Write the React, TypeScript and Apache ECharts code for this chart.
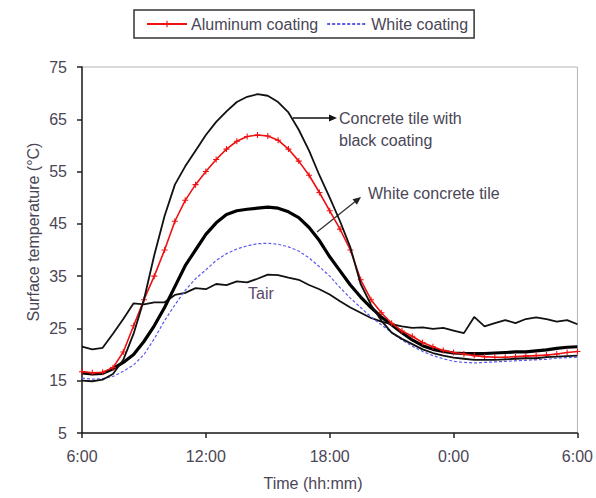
import React, { useEffect, useRef } from "react";
import * as echarts from "echarts";

const times = [
  "6:00", "6:30", "7:00", "7:30", "8:00", "8:30", "9:00", "9:30", "10:00", "10:30",
  "11:00", "11:30", "12:00", "12:30", "13:00", "13:30", "14:00", "14:30", "15:00", "15:30",
  "16:00", "16:30", "17:00", "17:30", "18:00", "18:30", "19:00", "19:30", "20:00", "20:30",
  "21:00", "21:30", "22:00", "22:30", "23:00", "23:30", "0:00", "0:30", "1:00", "1:30",
  "2:00", "2:30", "3:00", "3:30", "4:00", "4:30", "5:00", "5:30", "6:00",
];

const blackCoating = [
  15.0, 14.9, 15.2, 16.3, 19.0, 24.0, 30.5, 39.0, 46.5, 52.5,
  56.0, 59.0, 62.0, 64.5, 66.5, 68.3, 69.3, 69.8, 69.5, 68.3,
  66.3, 63.0, 59.0, 54.3, 50.0, 45.5, 40.5, 33.5, 29.5, 26.5,
  24.2, 23.0, 22.0, 21.0, 20.3, 19.8, 19.4, 19.2, 19.0, 19.0,
  19.0, 19.1, 19.2, 19.3, 19.3, 19.5, 19.6, 19.7, 19.8,
];

const aluminumCoating = [
  16.7, 16.5, 16.6, 17.5, 20.5, 25.5, 30.5, 35.0, 40.0, 45.5,
  49.5, 52.5, 55.0, 57.3, 59.3, 60.8, 61.7, 62.0, 61.8, 61.0,
  59.3, 57.0, 54.3, 51.0, 47.5, 44.0, 40.0, 34.3, 30.5, 28.0,
  26.0, 24.5, 23.5, 22.3, 21.5, 20.8, 20.4, 20.1, 19.8, 19.6,
  19.5, 19.5, 19.6, 19.7, 19.8, 19.9, 20.1, 20.4, 20.6,
];

const whiteConcreteTile = [
  16.5, 16.3, 16.4, 17.3, 18.5, 20.0, 22.5, 25.5, 29.0, 33.0,
  37.0, 40.0, 43.0, 45.2, 46.8, 47.5, 47.8, 48.0, 48.2, 48.0,
  47.3, 46.2, 44.3, 41.8, 38.7, 36.0, 33.3, 31.0, 29.0, 27.2,
  25.7, 24.2, 22.8, 21.7, 21.0, 20.6, 20.3, 20.2, 20.2, 20.2,
  20.3, 20.4, 20.5, 20.5, 20.7, 20.9, 21.2, 21.4, 21.5,
];

const whiteCoating = [
  15.5, 15.3, 15.4, 15.8, 16.8, 18.0, 20.0, 23.0, 26.5, 29.5,
  32.3, 34.5, 36.2, 38.0, 39.3, 40.2, 40.8, 41.2, 41.3, 41.1,
  40.6, 39.8, 38.5, 36.8, 35.0, 32.8, 30.8, 29.0, 27.2, 25.7,
  24.2, 22.8, 21.6, 20.6, 19.8, 19.2, 18.7, 18.5, 18.4, 18.5,
  18.6, 18.7, 18.8, 18.9, 19.0, 19.1, 19.3, 19.4, 19.5,
];

const tair = [
  21.5, 21.0, 21.3, 24.0, 26.8, 29.8, 29.6, 30.0, 30.0, 31.4,
  31.8, 32.7, 32.5, 33.5, 33.3, 34.0, 33.8, 34.5, 35.3, 35.2,
  34.7, 34.3, 33.3, 32.5, 31.5, 30.2, 29.0, 28.0, 27.0, 26.3,
  25.8, 25.4, 25.1, 25.2, 24.9, 25.1, 24.6, 24.1, 27.2, 25.4,
  26.0, 26.6, 26.0, 26.8, 27.1, 26.8, 26.3, 26.6, 25.8,
];

const yTicks = { min: 5, max: 75, interval: 10 };

const TEXT = "#4a4656";
const FONT = "'Liberation Sans', Arial, sans-serif";

const plusSymbol =
  "path://M-0.18,-1 L0.18,-1 L0.18,-0.18 L1,-0.18 L1,0.18 L0.18,0.18 L0.18,1 L-0.18,1 L-0.18,0.18 L-1,0.18 L-1,-0.18 L-0.18,-0.18 Z";

export default function App() {
  const ref = useRef<HTMLDivElement>(null);

  useEffect(() => {
    if (!ref.current) return;
    const chart = echarts.init(ref.current, undefined, { renderer: "svg" });

    const a2dir = { x: 44, y: -35 };
    const len = Math.hypot(a2dir.x, a2dir.y);
    const ux = a2dir.x / len;
    const uy = a2dir.y / len;
    const tip2 = { x: 361, y: 197 };
    const base2 = { x: tip2.x - ux * 8, y: tip2.y - uy * 8 };
    const px = -uy * 3.5;
    const py = ux * 3.5;

    chart.setOption({
      animation: false,
      backgroundColor: "#ffffff",
      textStyle: { fontFamily: FONT },
      grid: {
        left: 82,
        right: 14,
        top: 67,
        bottom: 65,
        show: true,
        borderColor: "#b4b4b4",
        borderWidth: 1,
        backgroundColor: "#ffffff",
      },
      legend: {
        data: [
          { name: "Aluminum coating" },
          { name: "White coating", itemStyle: { opacity: 0 } },
        ],
        left: 134,
        top: 10,
        orient: "horizontal",
        padding: [6, 6, 6, 12],
        itemWidth: 40,
        itemHeight: 8,
        itemGap: 8,
        backgroundColor: "#ffffff",
        borderColor: "#333333",
        borderWidth: 1.5,
        textStyle: { fontSize: 16, color: TEXT, fontFamily: FONT, padding: [0, 0, 0, -1] },
      },
      xAxis: {
        type: "category",
        data: times,
        boundaryGap: false,
        axisLine: { show: true, lineStyle: { color: "#222", width: 1.5 } },
        axisTick: { show: true, interval: 11, length: 5, inside: false, lineStyle: { color: "#222", width: 1.5 } },
        axisLabel: { interval: 11, margin: 15, fontSize: 16, color: TEXT, fontFamily: FONT },
        splitLine: { show: false },
      },
      yAxis: {
        type: "value",
        min: yTicks.min,
        max: yTicks.max,
        interval: yTicks.interval,
        axisLine: { show: true, lineStyle: { color: "#222", width: 1.5 } },
        axisTick: { show: true, length: 5, inside: false, lineStyle: { color: "#222", width: 1.5 } },
        axisLabel: { margin: 15, fontSize: 16, color: TEXT, fontFamily: FONT },
        splitLine: { show: false },
      },
      series: [
        {
          name: "Tair",
          type: "line",
          data: tair,
          showSymbol: false,
          symbol: "none",
          lineStyle: { color: "#111111", width: 1.8 },
          itemStyle: { color: "#111111" },
          z: 2,
        },
        {
          name: "White coating",
          type: "line",
          data: whiteCoating,
          showSymbol: false,
          symbol: "none",
          lineStyle: { color: "#5a5af0", width: 1.2, type: [3, 2] },
          itemStyle: { color: "#5a5af0" },
          z: 3,
        },
        {
          name: "White concrete tile",
          type: "line",
          data: whiteConcreteTile,
          showSymbol: false,
          symbol: "none",
          lineStyle: { color: "#000000", width: 3.2 },
          itemStyle: { color: "#000000" },
          z: 4,
        },
        {
          name: "Aluminum coating",
          type: "line",
          data: aluminumCoating,
          symbol: plusSymbol,
          symbolSize: 6,
          showSymbol: true,
          lineStyle: { color: "#ee1111", width: 1.6 },
          itemStyle: { color: "#ee1111" },
          z: 5,
        },
        {
          name: "Concrete tile with black coating",
          type: "line",
          data: blackCoating,
          showSymbol: false,
          symbol: "none",
          lineStyle: { color: "#111111", width: 1.8 },
          itemStyle: { color: "#111111" },
          z: 6,
        },
      ],
      graphic: [
        {
          type: "text",
          x: 33,
          y: 232,
          rotation: Math.PI / 2,
          style: {
            text: "Surface temperature (°C)",
            fontSize: 16,
            fontFamily: FONT,
            fill: TEXT,
            align: "center",
            verticalAlign: "middle",
          },
        },
        {
          type: "text",
          x: 313,
          y: 483,
          style: {
            text: "Time (hh:mm)",
            fontSize: 16,
            fontFamily: FONT,
            fill: TEXT,
            align: "center",
            verticalAlign: "middle",
          },
        },
        {
          type: "text",
          x: 339,
          y: 118,
          style: { text: "Concrete tile with", fontSize: 16, fontFamily: FONT, fill: TEXT, align: "left", verticalAlign: "middle" },
        },
        {
          type: "text",
          x: 339,
          y: 140,
          style: { text: "black coating", fontSize: 16, fontFamily: FONT, fill: TEXT, align: "left", verticalAlign: "middle" },
        },
        {
          type: "line",
          shape: { x1: 293, y1: 118, x2: 331, y2: 118 },
          style: { stroke: "#111", lineWidth: 1.3 },
        },
        {
          type: "polygon",
          shape: { points: [[337, 118], [329, 114.5], [329, 121.5]] },
          style: { fill: "#111" },
        },
        {
          type: "text",
          x: 368,
          y: 193,
          style: { text: "White concrete tile", fontSize: 16, fontFamily: FONT, fill: TEXT, align: "left", verticalAlign: "middle" },
        },
        {
          type: "line",
          shape: { x1: 317, y1: 232, x2: base2.x + ux * 1, y2: base2.y + uy * 1 },
          style: { stroke: "#333", lineWidth: 1.3 },
        },
        {
          type: "polygon",
          shape: {
            points: [
              [tip2.x, tip2.y],
              [base2.x + px, base2.y + py],
              [base2.x - px, base2.y - py],
            ],
          },
          style: { fill: "#222" },
        },
        {
          type: "text",
          x: 261,
          y: 293,
          style: { text: "Tair", fontSize: 16, fontFamily: FONT, fill: "#5a4a6a", align: "center", verticalAlign: "middle" },
        },
      ],
    });

    return () => {
      chart.dispose();
    };
  }, []);

  return (
    <div
      ref={ref}
      style={{ position: "fixed", left: 0, top: 0, width: 596, height: 498, background: "#fff" }}
    />
  );
}
